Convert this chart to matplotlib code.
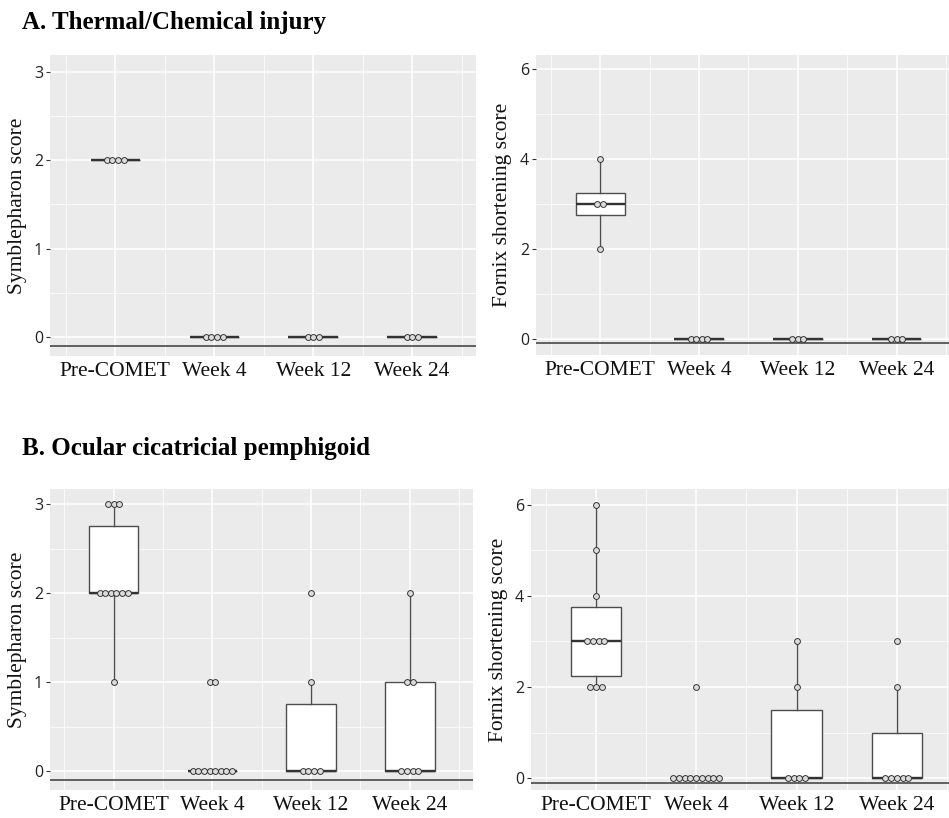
import numpy as np
import matplotlib
matplotlib.use("Agg")
import matplotlib.pyplot as plt
from matplotlib.ticker import MultipleLocator

# scores per time point
groups = ["Pre-COMET", "Week 4", "Week 12", "Week 24"]

thermal_symb = [[2, 2, 2, 2], [0, 0, 0, 0], [0, 0, 0], [0, 0, 0]]
thermal_fornix = [[4, 3, 3, 2], [0, 0, 0, 0], [0, 0, 0], [0, 0, 0]]

ocp_symb = [[3, 3, 3, 2, 2, 2, 2, 2, 2, 1],
            [1, 1, 0, 0, 0, 0, 0, 0, 0, 0],
            [2, 1, 0, 0, 0, 0],
            [2, 1, 1, 0, 0, 0, 0]]
ocp_fornix = [[6, 5, 4, 3, 3, 3, 3, 2, 2, 2],
              [2, 0, 0, 0, 0, 0, 0, 0, 0, 0],
              [3, 2, 0, 0, 0, 0],
              [3, 2, 0, 0, 0, 0, 0]]

W, H = 949, 818
fig = plt.figure(figsize=(W / 100, H / 100), dpi=100)

SERIF = ["Liberation Serif", "DejaVu Serif"]
SANS = ["Open Sans", "DejaVu Sans"]


def px_axes(left, top, right, bottom):
    return fig.add_axes([left / W, 1 - bottom / H, (right - left) / W, (bottom - top) / H])


def draw_panel(ax, data, ylim, xlim, ymajor, label, label_x):
    ax.set_facecolor("#EBEBEB")
    for s in ax.spines.values():
        s.set_visible(False)

    ax.boxplot(data, positions=range(1, len(data) + 1), widths=0.5,
               showfliers=False, patch_artist=True, whis=1.5,
               boxprops=dict(facecolor="white", edgecolor="#4d4d4d", lw=1.0),
               whiskerprops=dict(color="#4d4d4d", lw=1.0),
               capprops=dict(visible=False),
               medianprops=dict(color="#333333", lw=1.7), zorder=2)

    # dot plot: equal values side by side, centred on the category
    d = 0.057
    for i, vals in enumerate(data):
        for v in sorted(set(vals)):
            n = vals.count(v)
            xs = i + 1 + (np.arange(n) - (n - 1) / 2) * d
            ax.plot(xs, [v] * n, "o", ms=4.2, mfc="#DDDDDD", mec="#333333",
                    mew=0.7, zorder=3)

    ax.axhline(-0.1, color="#555555", lw=1.3, zorder=2)

    ax.set_xlim(*xlim)
    ax.set_ylim(*ylim)
    ax.yaxis.set_major_locator(MultipleLocator(ymajor))
    ax.yaxis.set_minor_locator(MultipleLocator(ymajor / 2))
    ax.set_xticks(range(1, len(groups) + 1))
    ax.set_xticks(np.arange(0.5, len(groups) + 1, 1.0), minor=True)
    ax.set_xticklabels(groups, fontsize=15.5, family=SERIF, color="#111111")
    ax.grid(which="major", color="white", lw=1.1, zorder=0)
    ax.grid(which="minor", color="white", lw=0.55, zorder=0)
    ax.set_axisbelow(True)

    ax.tick_params(axis="x", which="both", length=0, pad=4)
    ax.tick_params(axis="y", which="minor", length=0)
    ax.tick_params(axis="y", which="major", length=3, color="#333333", pad=2)
    for t in ax.get_yticklabels():
        t.set_family(SANS)
        t.set_fontsize(11.5)
        t.set_color("#222222")
    pos = ax.get_position()
    fig.text(label_x / W, (pos.y0 + pos.y1) / 2, label, rotation=90,
             ha="center", va="center", fontsize=15.5, family=SERIF, color="#111111")


ax1 = px_axes(50, 55, 476, 356)
draw_panel(ax1, thermal_symb, (-0.215, 3.19), (0.34, 4.645), 1, "Symblepharon score", 18)
ax2 = px_axes(536, 55, 949, 355)
draw_panel(ax2, thermal_fornix, (-0.36, 6.32), (0.35, 4.53), 2, "Fornix shortening score", 503)
ax3 = px_axes(50, 489, 473, 790)
draw_panel(ax3, ocp_symb, (-0.213, 3.17), (0.355, 4.64), 1, "Symblepharon score", 18)
ax4 = px_axes(531, 489, 949, 790)
draw_panel(ax4, ocp_fornix, (-0.26, 6.34), (0.353, 4.52), 2, "Fornix shortening score", 498)

fig.text(22 / W, 1 - 23 / H, "A. Thermal/Chemical injury", ha="left", va="center",
         fontsize=18, fontweight="bold", family=SERIF)
fig.text(22 / W, 1 - 448 / H, "B. Ocular cicatricial pemphigoid", ha="left", va="center",
         fontsize=18, fontweight="bold", family=SERIF)

fig.savefig("out.png", dpi=100, facecolor="white")
